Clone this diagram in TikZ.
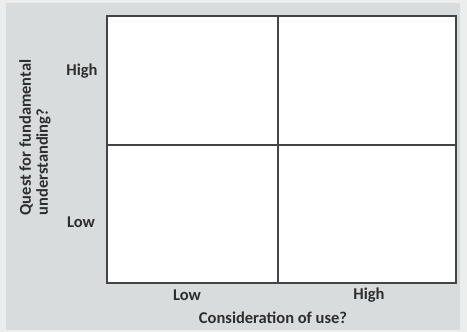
\documentclass[tikz,border=0pt]{standalone}
\usepackage{fontspec}
\setmainfont{Carlito}
\usetikzlibrary{positioning}
\definecolor{panelcol}{RGB}{217,220,220}
\definecolor{edgecol}{RGB}{236,238,238}
\definecolor{gridcol}{RGB}{68,68,68}

\begin{document}
\begin{tikzpicture}[
    x=1pt, y=-1pt,
    cell/.style={draw=gridcol, line width=1.6pt, fill=white},
    lbl/.style={font=\fontsize{16.5}{17}\selectfont\bfseries, text=black!82},
]
\useasboundingbox (0,0) rectangle (467,332);
\fill[edgecol] (0,0) rectangle (467,332);
\fill[panelcol] (6,3) rectangle (460,330);
% the four quadrants
\draw[cell] (107,16) rectangle (456,283);
\draw[draw=gridcol, line width=1.6pt] (278,16) -- (278,283);
\draw[draw=gridcol, line width=1.6pt] (107,145) -- (456,145);
\node[lbl] (yhigh) at (82,71) {High};
\node[lbl] (ylow) at (81,222) {Low};
\node[lbl] (xlow) at (187,295) {Low};
\node[lbl] (xhigh) at (369,295) {High};
\node[lbl] (xtitle) at (273,318) {Consideration of use?};
\node[lbl, rotate=90, align=left, anchor=west] (ytitle) at (35,219) {Quest for fundamental\\understanding?};
\end{tikzpicture}
\end{document}
